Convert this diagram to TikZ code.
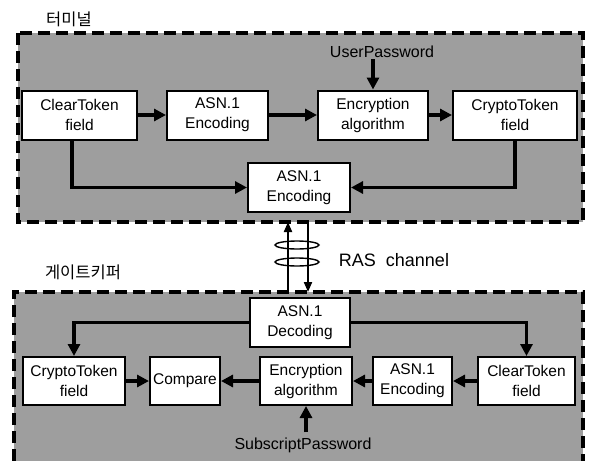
\documentclass[tikz,border=0pt]{standalone}
\usepackage{fontspec}
\setmainfont{Liberation Sans}
\newfontfamily\krfont{Noto Sans CJK KR}
\usetikzlibrary{arrows.meta}

\begin{document}
\begin{tikzpicture}[x=1pt,y=-1pt,
  box/.style={draw,line width=2pt,fill=white,align=center,inner sep=0pt,
    font=\fontsize{15.5}{20}\selectfont,minimum height=49pt},
  flow/.style={line width=3.3pt,-{Triangle[length=12pt,width=12pt]}},
  wire/.style={line width=2pt,-{Triangle[length=10pt,width=8pt]}},
  zone/.style={fill=black!38},
  border/.style={line width=3.4pt,dash pattern=on 12pt off 6pt},
  label/.style={font=\fontsize{16}{20}\selectfont,inner sep=1pt}]
\useasboundingbox (0,0) rectangle (590,461);

%Shape: Rectangle [terminal zone]
\fill[zone] (18,33) rectangle (583,222);
\draw[border] (18,33) rectangle (583,222);
%Shape: Rectangle [gatekeeper zone, cut at the bottom]
\fill[zone] (14,292) rectangle (583,461);
\draw[border] (14,461) -- (14,292) -- (583,292) -- (583,461);

% Text Node
\node[font=\krfont\fontsize{16.5}{18}\selectfont] (term) at (69,19) {터미널};
% Text Node
\node[font=\krfont\fontsize{16.5}{18}\selectfont] (gate) at (83,272) {게이트키퍼};

% terminal side
\node[box,minimum width=115pt] (clearT) at (79.5,115) {ClearToken\\field};
\node[box,minimum width=101pt] (asnT) at (217.5,115) {ASN.1\\Encoding};
\node[box,minimum width=110pt] (encT) at (373,115) {Encryption\\algorithm};
\node[box,minimum width=124pt] (cryptoT) at (515,115) {CryptoToken\\field};
\node[box,minimum width=102pt] (asnM) at (299,187.5) {ASN.1\\Encoding};
\node[label] (upw) at (382,52) {UserPassword};

\draw[flow] (clearT) -- (asnT);
\draw[flow] (asnT) -- (encT);
\draw[flow] (encT) -- (cryptoT);
\draw[flow] (encT.north |- upw.south) -- (encT.north);
\draw[flow] ([xshift=-7.5pt]clearT.south) |- (asnM.west);
\draw[flow] (cryptoT.south) |- (asnM.east);

% gatekeeper side
\node[box,minimum width=100pt] (decG) at (300,322.5) {ASN.1\\Decoding};
\node[box,minimum width=102pt,minimum height=48pt] (cryptoG) at (74,381) {CryptoToken\\field};
\node[box,minimum width=70pt,minimum height=48pt] (cmpG) at (185,381) {Compare};
\node[box,minimum width=92pt,minimum height=48pt] (encG) at (306,381) {Encryption\\algorithm};
\node[box,minimum width=79pt,minimum height=48pt] (asnG) at (412.5,381) {ASN.1\\Encoding};
\node[box,minimum width=97pt,minimum height=48pt] (clearG) at (526.5,381) {ClearToken\\field};
\node[label] (spw) at (303,445) {SubscriptPassword};

\draw[flow] (decG.west) -| (cryptoG.north);
\draw[flow] (decG.east) -| (clearG.north);
\draw[flow] (cryptoG) -- (cmpG);
\draw[flow] (encG) -- (cmpG);
\draw[flow] (asnG) -- (encG);
\draw[flow] (clearG) -- (asnG);
\draw[flow] ([yshift=4pt]encG.south |- spw.north) -- (encG.south);

% RAS channel
\coordinate (upS) at (288,292);
\coordinate (upE) at (288,222);
\coordinate (dnS) at (308,222);
\coordinate (dnE) at (308,292);
\draw[wire] (upS) -- (upE);
\draw[wire] (dnS) -- (dnE);
\draw[line width=1.4pt] (297,245) ellipse [x radius=22pt,y radius=4pt];
\draw[line width=1.4pt] (297,262) ellipse [x radius=22pt,y radius=4pt];
\node[font=\fontsize{18}{22}\selectfont] (ras) at (394,260) {RAS\ \ channel};

\end{tikzpicture}
\end{document}
